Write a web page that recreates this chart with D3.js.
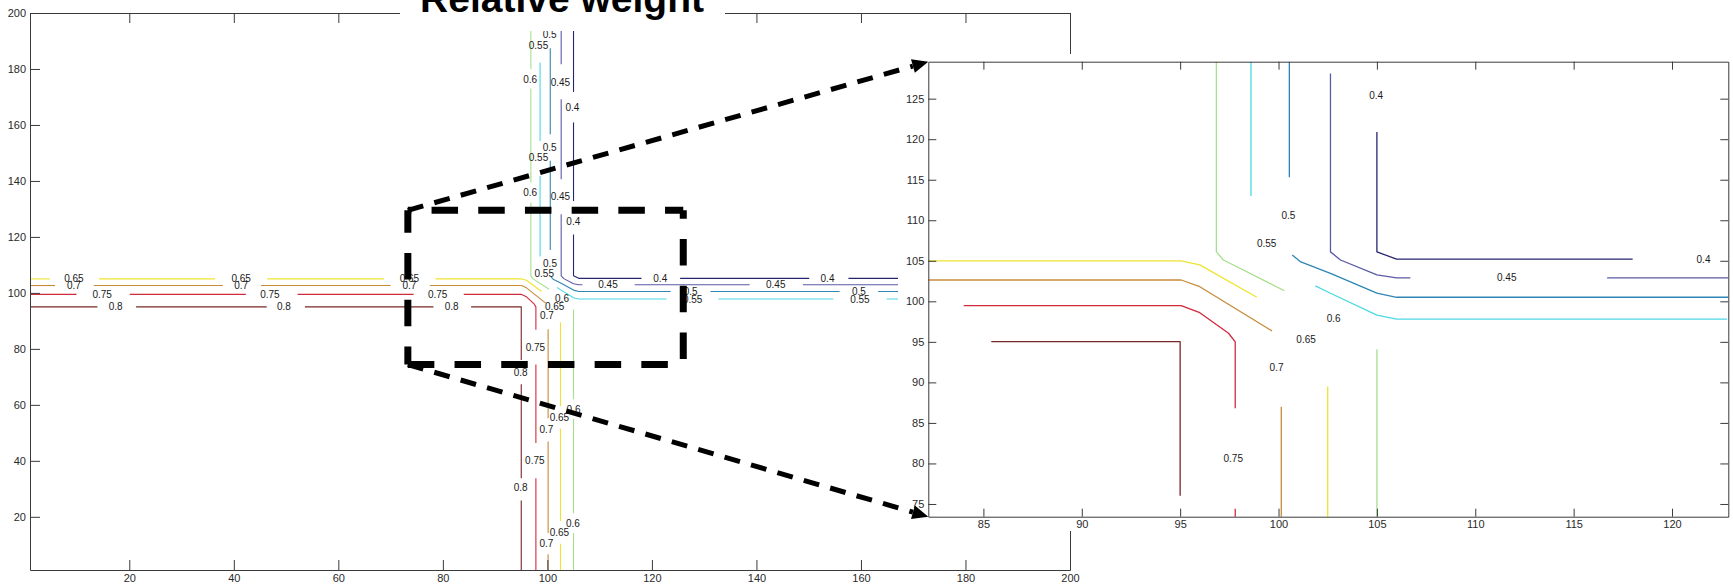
<!DOCTYPE html>
<html><head><meta charset="utf-8">
<script src="https://cdn.jsdelivr.net/npm/d3@7"></script>
<style>
html,body{margin:0;padding:0;background:#fff;}
svg{display:block;}
</style></head>
<body>
<svg id="chart" width="1733" height="586"></svg>
<script>
// ---------------- data ----------------
const titleText = "Relative weight";
const levels = [0.4, 0.45, 0.5, 0.55, 0.6, 0.65, 0.7, 0.75, 0.8];
const levelText = ["0.4", "0.45", "0.5", "0.55", "0.6", "0.65", "0.7", "0.75", "0.8"];

// contour polylines per level (data coords, gaps where inline labels sit)
const lines040 = [
  [[105.0,200],[105.0,171.8]],
  [[105.0,160.9],[105.0,132.8]],
  [[105.0,120.9],[105.0,106.1],[106.0,105.2],[118.0,105.2]],
  [[125.4,105.2],[150.1,105.2]],
  [[157.6,105.2],[200,105.2]]
];
const lines045 = [
  [[102.64,200],[102.64,181.7]],
  [[102.64,169.2],[102.64,140.6]],
  [[102.64,128.1],[102.64,106.1],[103.15,105.1],[105.0,103.25],[106.0,102.9],[106.7,102.9]],
  [[116.7,102.9],[138.7,102.9]],
  [[148.9,102.9],[200,102.9]]
];
const lines050 = [
  [[100.55,187.4],[100.55,156.7]],
  [[100.55,147.2],[100.55,115.3]],
  [[100.7,105.7],[101.1,104.9],[102.64,103.45],[105.0,101.0],[106.0,100.5],[123.6,100.5]],
  [[131.2,100.5],[155.9,100.5]],
  [[163.3,100.5],[200,100.5]]
];
const lines055 = [
  [[98.6,182.3],[98.6,154.3]],
  [[98.6,141.8],[98.6,113.0]],
  [[101.87,101.9],[102.64,101.0],[105.0,98.3],[106.0,97.8],[122.8,97.8]],
  [[132.7,97.8],[154.7,97.8]],
  [[164.9,97.8],[200,97.8]]
];
const lines060 = [
  [[96.84,200],[96.84,179.9]],
  [[96.84,173.0],[96.84,139.4]],
  [[96.84,132.2],[96.84,106.1],[97.2,105.1],[100.3,101.3]],
  [[105.0,94.1],[105.0,62.0]],
  [[105.0,55.0],[105.0,21.2]],
  [[105.0,14.2],[105.0,1]]
];
const lines065 = [
  [[1,105.0],[4.8,105.0]],
  [[14.2,105.0],[36.4,105.0]],
  [[46.4,105.0],[68.7,105.0]],
  [[78.6,105.0],[95.05,105.0],[96.0,104.5],[98.9,100.5]],
  [[102.5,89.5],[102.5,59.5]],
  [[102.5,51.5],[102.5,18.4]],
  [[102.5,10.4],[102.5,1]]
];
const lines070 = [
  [[1,102.63],[5.8,102.63]],
  [[13.2,102.63],[37.9,102.63]],
  [[45.2,102.63],[70.0,102.63]],
  [[77.5,102.63],[95.05,102.63],[96.0,101.8],[99.67,96.35]],
  [[100.14,87.0],[100.14,55.2]],
  [[100.14,46.9],[100.14,14.2]],
  [[100.14,6.6],[100.14,1]]
];
const lines075 = [
  [[1,99.46],[9.9,99.46]],
  [[20.1,99.46],[42.3,99.46]],
  [[52.2,99.46],[74.4,99.46]],
  [[84.0,99.46],[95.05,99.46],[96.0,98.6],[97.46,96.06],[97.8,95.0],[97.8,86.8]],
  [[97.8,74.4],[97.8,46.4]],
  [[97.8,33.8],[97.8,1]]
];
const lines080 = [
  [[1,95.02],[13.9,95.02]],
  [[21.3,95.02],[46.3,95.02]],
  [[53.6,95.02],[78.2,95.02]],
  [[85.4,95.02],[95.0,95.02],[95.0,76.0]],
  [[95.0,67.4],[95.0,33.8]],
  [[95.0,25.8],[95.0,1]]
];

// inline label anchor points per level
const labels040 = [[104.8,166.4],[104.96,125.4],[121.6,105.2],[153.6,105.2]];
const labels045 = [[102.5,175.2],[102.5,134.6],[111.6,102.9],[143.7,102.9]];
const labels050 = [[100.45,192.5],[100.45,151.9],[100.5,110.6],[127.4,100.6],[159.6,100.6]];
const labels055 = [[98.3,188.4],[98.3,148.5],[99.4,107.1],[127.8,97.7],[159.8,97.7]];
const labels060 = [[96.7,176.4],[96.7,135.8],[102.8,97.9],[105.0,58.5],[104.9,17.7]];
const labels065 = [[9.4,105.3],[41.4,105.3],[73.6,105.3],[101.4,95.3],[102.3,55.5],[102.3,14.4]];
const labels070 = [[9.4,102.8],[41.4,102.8],[73.6,102.8],[99.9,91.8],[99.8,51.1],[99.8,10.5]];
const labels075 = [[14.8,99.4],[46.9,99.4],[79.0,99.4],[97.7,80.6],[97.6,40.1]];
const labels080 = [[17.4,95.0],[49.6,95.0],[81.7,95.0],[94.9,71.7],[94.9,30.5]];

// axes
const mainXDomain = [1, 200];
const mainYDomain = [1, 200];
const mainTicks = [20, 40, 60, 80, 100, 120, 140, 160, 180, 200];
const insetXDomain = [82.2, 122.86];
const insetYDomain = [73.43, 129.56];
const insetXTicks = [85, 90, 95, 100, 105, 110, 115, 120];
const insetYTicks = [75, 80, 85, 90, 95, 100, 105, 110, 115, 120, 125];

// zoom rectangle in main data coords
const zoomBoxX = [73.3, 126.0];
const zoomBoxY = [74.4, 129.5];

// ---------------- styles ----------------
const levelColors = ["#262670","#5a5aa6","#2e86b4","#4cd8e4","#a6e08e","#eee430","#c68c3a","#d02a3e","#7a2626"];
const allLines = [lines040, lines045, lines050, lines055, lines060, lines065, lines070, lines075, lines080];
const allLabels = [labels040, labels045, labels050, labels055, labels060, labels065, labels070, labels075, labels080];
const narrow = "'Liberation Sans Narrow','Arial Narrow','Liberation Sans',Arial,sans-serif";

// ---------------- drawing ----------------
const svg = d3.select("#chart");
svg.append("rect").attr("width",1733).attr("height",586).attr("fill","#fff");

const xMain = d3.scaleLinear().domain(mainXDomain).range([30, 1070]);
const yMain = d3.scaleLinear().domain(mainYDomain).range([570, 13]);
const xIn = d3.scaleLinear().domain(insetXDomain).range([928.3, 1728.3]);
const yIn = d3.scaleLinear().domain(insetYDomain).range([516.7, 61.7]);

function drawPanel(g, x, y, clipId, lw, ticksX, ticksY, tickLen, labelXMax) {
  const [x0, x1] = x.range();
  const [yb, yt] = y.range();
  g.append("clipPath").attr("id", clipId).append("rect")
    .attr("x", x0).attr("y", yt).attr("width", x1 - x0).attr("height", yb - yt);
  const line = d3.line().x(d => x(d[0])).y(d => y(d[1]));
  const cg = g.append("g").attr("clip-path", `url(#${clipId})`);
  levels.forEach((lv, i) => {
    cg.append("g").selectAll("path").data(allLines[i]).join("path")
      .attr("d", line).attr("fill", "none")
      .attr("stroke", levelColors[i]).attr("stroke-width", lw)
      .attr("stroke-linejoin", "round");
  });
  const [dx0, dx1] = x.domain(), [dy0, dy1] = y.domain();
  const inside = d => d[0] >= dx0 && d[0] <= Math.min(dx1, labelXMax) && d[1] >= dy0 && d[1] <= dy1;
  levels.forEach((lv, i) => {
    g.append("g").selectAll("text").data(allLabels[i].filter(inside)).join("text")
      .attr("x", d => x(d[0])).attr("y", d => y(d[1]))
      .attr("dy", "0.36em").attr("text-anchor", "middle")
      .attr("font-family", narrow).attr("font-size", 10).attr("fill", "#1a1a1a")
      .text(levelText[i]);
  });
  const axColor = "#3a3a3a";
  const styleAxis = (a) => {
    a.select(".domain").attr("stroke", axColor).attr("stroke-width", 1);
    a.selectAll(".tick line").attr("stroke", axColor).attr("stroke-width", 1);
    a.selectAll("text").attr("font-family", narrow).attr("font-size", 11).attr("fill", "#2a2a2a");
  };
  g.append("g").attr("transform", `translate(0,${yb})`)
    .call(d3.axisBottom(x).tickValues(ticksX).tickSizeInner(-tickLen).tickSizeOuter(0).tickPadding(4).tickFormat(d3.format("d")))
    .call(styleAxis);
  g.append("g").attr("transform", `translate(0,${yt})`)
    .call(d3.axisTop(x).tickValues(ticksX).tickSizeInner(-tickLen).tickSizeOuter(0))
    .call(styleAxis)
    .call(a => a.selectAll("text").remove());
  g.append("g").attr("transform", `translate(${x0},0)`)
    .call(d3.axisLeft(y).tickValues(ticksY).tickSizeInner(-tickLen).tickSizeOuter(0).tickPadding(4).tickFormat(d3.format("d")))
    .call(styleAxis);
  g.append("g").attr("transform", `translate(${x1},0)`)
    .call(d3.axisRight(y).tickValues(ticksY).tickSizeInner(-tickLen).tickSizeOuter(0))
    .call(styleAxis)
    .call(a => a.selectAll("text").remove());
}

// main panel (labels beyond the inset backing are hidden in the reference)
const gMain = svg.append("g");
drawPanel(gMain, xMain, yMain, "clipMain", 1.1, mainTicks, mainTicks, 10, 165);

// dashed zoom rectangle
const bx0 = xMain(zoomBoxX[0]), bx1 = xMain(zoomBoxX[1]);
const byT = yMain(zoomBoxY[1]), byB = yMain(zoomBoxY[0]);
const boxEdges = [
  {p: [[bx0, byT], [bx1, byT]], off: 23},
  {p: [[bx1, byT], [bx1, byB]], off: 18},
  {p: [[bx0, byB], [bx1, byB]], off: 0},
  {p: [[bx0, byT], [bx0, byB]], off: 4}
];
svg.append("g").selectAll("path").data(boxEdges).join("path")
  .attr("d", d => d3.line()(d.p)).attr("fill", "none").attr("stroke", "#000")
  .attr("stroke-width", 7).attr("stroke-dasharray", "26.5 20.2")
  .attr("stroke-dashoffset", d => d.off);

// title with its white backing
svg.append("rect").attr("x", 400).attr("y", 0).attr("width", 325).attr("height", 31).attr("fill", "#fff");
svg.append("text").attr("x", 562).attr("y", 12).attr("text-anchor", "middle")
  .attr("font-family", "'Liberation Sans',Arial,sans-serif").attr("font-weight", "bold")
  .attr("font-size", 39).attr("fill", "#000").text(titleText);

// inset panel with white backing
svg.append("rect").attr("x", 898).attr("y", 54).attr("width", 835).attr("height", 477).attr("fill", "#fff");
const gIn = svg.append("g");
drawPanel(gIn, xIn, yIn, "clipIn", 1.3, insetXTicks, insetYTicks, 8, 1000);

// dashed arrows from zoom box corners to inset corners
const arrows = [
  {from: [bx0, byT], to: [xIn.range()[0], yIn.range()[1]]},
  {from: [bx0, byB], to: [xIn.range()[0], yIn.range()[0]]}
];
const headLen = 16, headHalf = 7;
const ag = svg.append("g");
arrows.forEach(a => {
  const dx = a.to[0] - a.from[0], dy = a.to[1] - a.from[1];
  const L = Math.hypot(dx, dy), ux = dx / L, uy = dy / L;
  const base = [a.to[0] - ux * headLen, a.to[1] - uy * headLen];
  ag.append("path").attr("d", d3.line()([a.from, base]))
    .attr("stroke", "#000").attr("stroke-width", 5).attr("fill", "none")
    .attr("stroke-dasharray", "16 11.5");
  const px = -uy, py = ux;
  ag.append("path").attr("d", d3.line()([a.to,
      [base[0] + px * headHalf, base[1] + py * headHalf],
      [base[0] - px * headHalf, base[1] - py * headHalf]]) + "Z")
    .attr("fill", "#000");
});
</script>
</body></html>
